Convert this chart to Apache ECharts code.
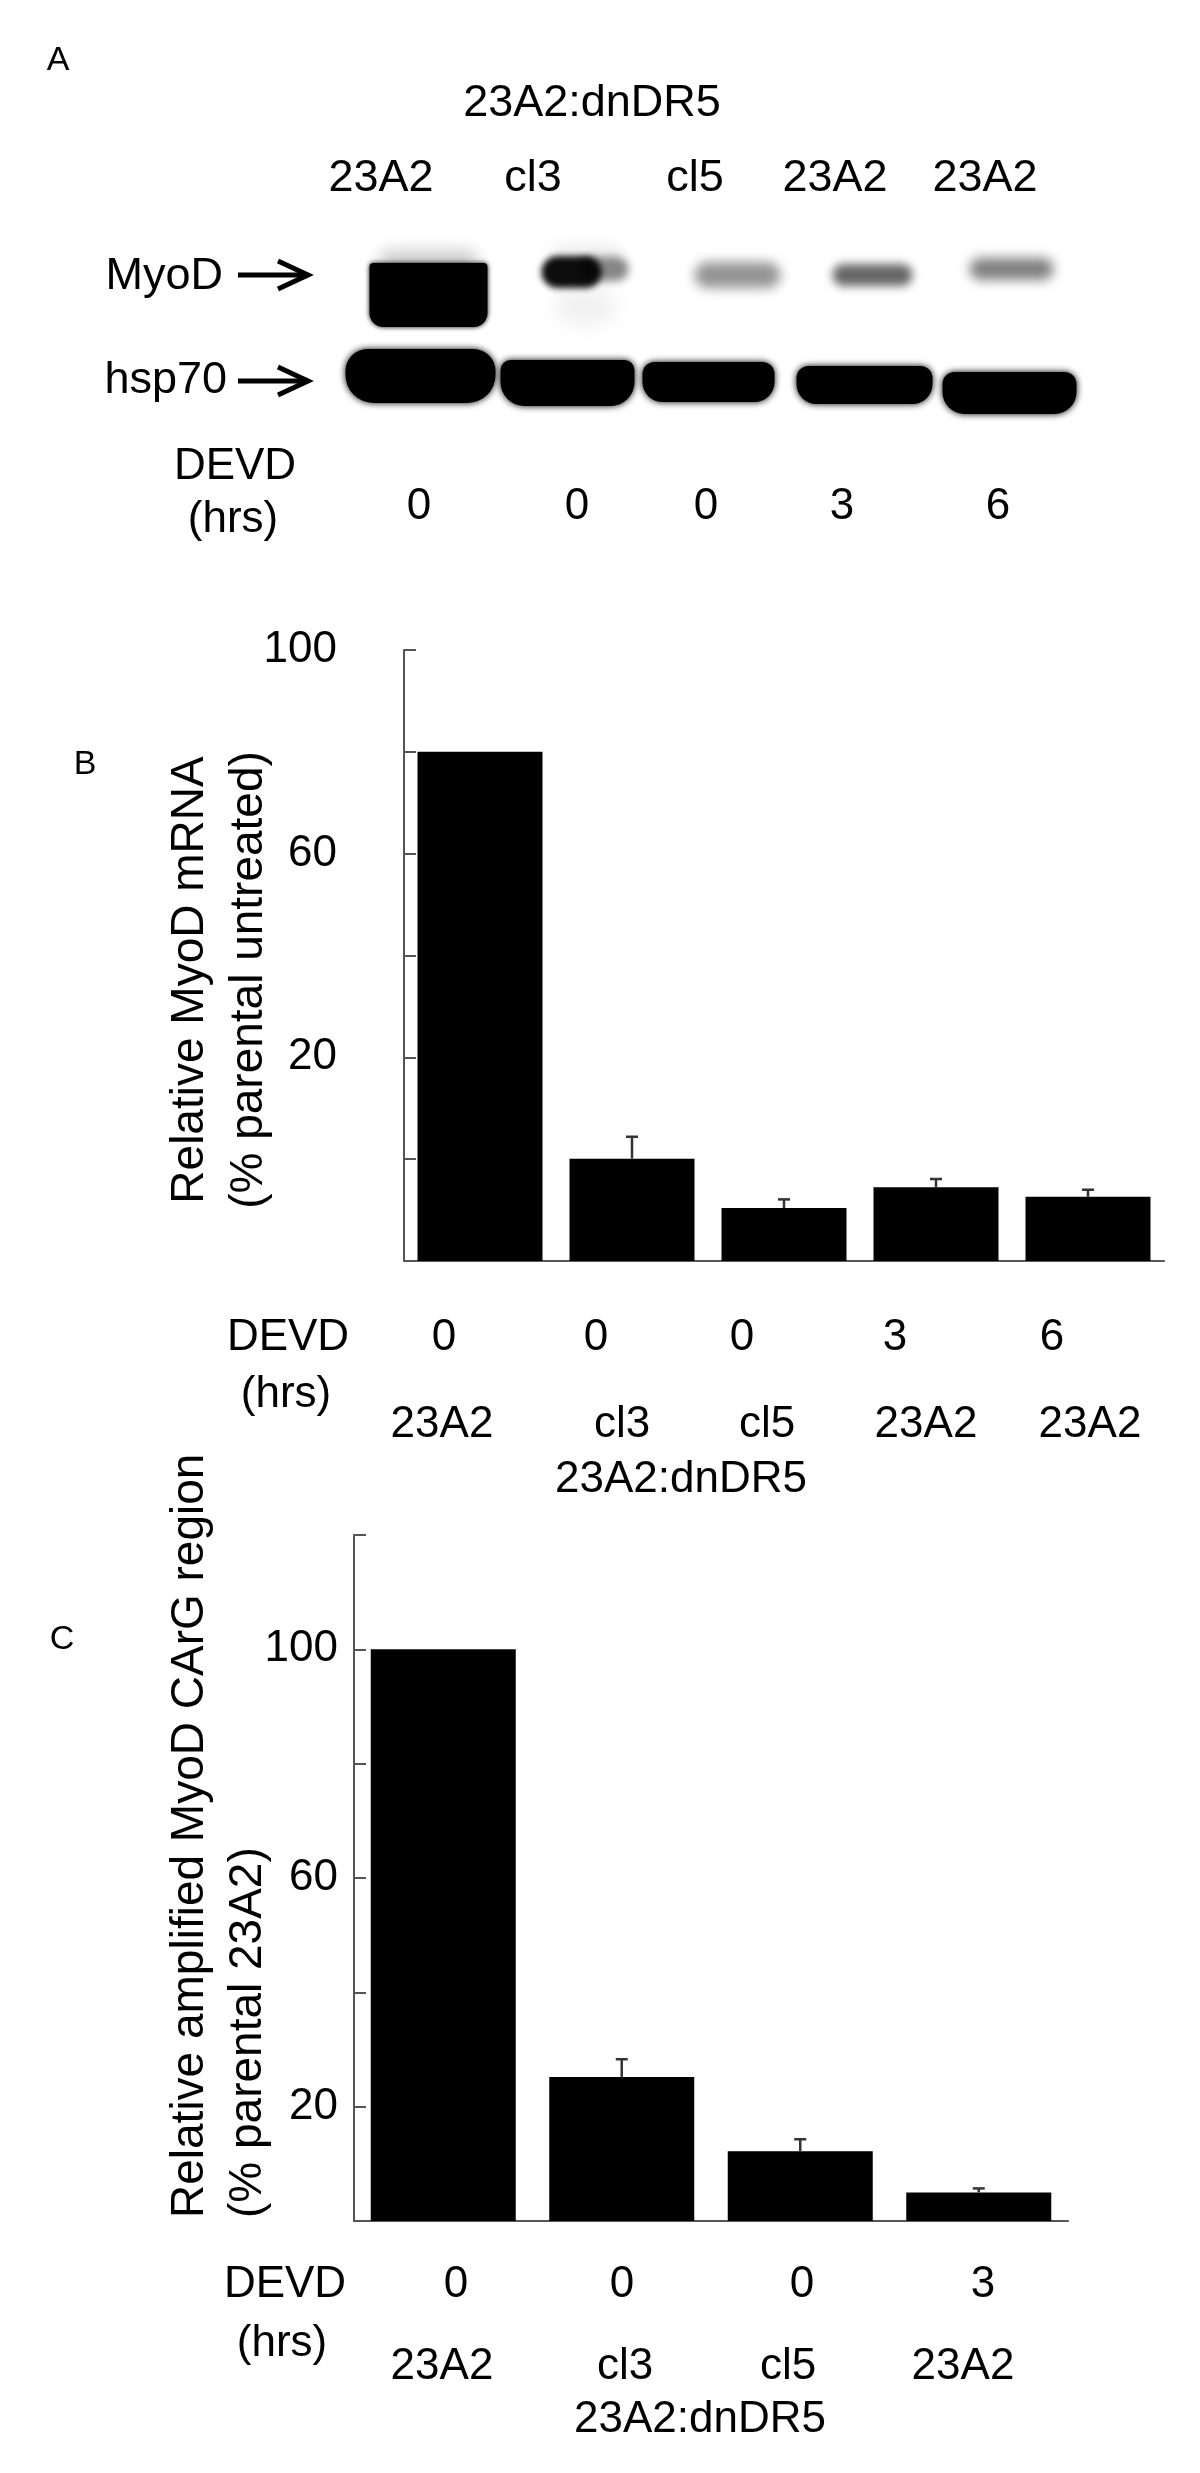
<!DOCTYPE html>
<html>
<head>
<meta charset="utf-8">
<script src="https://cdn.jsdelivr.net/npm/echarts@6/dist/echarts.min.js"></script>
<style>
  html, body { margin: 0; padding: 0; background: #fff; }
  #chart { width: 1200px; height: 2473px; }
</style>
</head>
<body>
<div id="chart"></div>
<script>
// ---------- data ----------
// panel A: western blot, relative band signal (0..1) per lane
const blotLanes = ['23A2', 'cl3', 'cl5', '23A2', '23A2'];
const blotRows = ['MyoD', 'hsp70'];
const myodSignal = [1.0, 0.95, 0.42, 0.6, 0.5];
const hsp70Signal = [1.0, 1.0, 1.0, 1.0, 1.0];
const blotHours = ['0', '0', '0', '3', '6'];

// panel B: relative MyoD mRNA
const mrnaLanes = ['23A2', 'cl3', 'cl5', '23A2', '23A2'];
const mrnaHours = ['0', '0', '0', '3', '6'];
const mrnaValues = [100, 20.1, 10.4, 14.5, 12.6];
const mrnaErrors = [0, 4.3, 1.7, 1.6, 1.4];
const mrnaTickLabels = ['', '', '20', '', '60', '', '100'];

// panel C: amplified MyoD CArG region
const chipLanes = ['23A2', 'cl3', 'cl5', '23A2'];
const chipHours = ['0', '0', '0', '3'];
const chipValues = [100, 25.2, 12.2, 5.0];
const chipErrors = [0, 3.1, 2.1, 0.7];
const chipTickLabels = ['', '20', '', '60', '', '100', ''];

// ---------- look of the blot bands (px, relative to lane centre) ----------
// solid: crisp block with a soft halo; soft: blurred blob, k scales the lane signal
const blotLook = [
  [
    [
      { soft: true, dx: 10, dy: -14, w: 100, h: 20, k: 0.22, blur: 16 },
      { dx: 10, dy: 20, w: 118, h: 64, r: [4, 4, 14, 14], k: 1, blur: 5 }
    ],
    [
      { soft: true, dx: 20, dy: 32, w: 60, h: 34, k: 0.07, blur: 22 },
      { soft: true, dx: 22, dy: -22, w: 70, h: 10, k: 0.12, blur: 16 },
      { soft: true, dx: 38, dy: -6, w: 50, h: 24, k: 0.5, blur: 8 },
      { soft: true, dx: 6, dy: -3, w: 60, h: 32, k: 1, blur: 6 }
    ],
    [
      { soft: true, dx: 25, dy: 0, w: 86, h: 26, k: 1, blur: 12 }
    ],
    [
      { soft: true, dx: 13, dy: 0, w: 80, h: 22, k: 1, blur: 10 }
    ],
    [
      { soft: true, dx: 5, dy: -6, w: 84, h: 22, k: 1, blur: 12 }
    ]
  ],
  [
    [{ dx: 2, dy: -7, w: 150, h: 54, r: [22, 22, 28, 28], k: 1, blur: 7 }],
    [{ dx: 2, dy: 0, w: 134, h: 46, r: [10, 10, 24, 24], k: 1, blur: 7 }],
    [{ dx: -4, dy: -1, w: 132, h: 40, r: [12, 12, 20, 20], k: 1, blur: 7 }],
    [{ dx: 5, dy: 2, w: 136, h: 38, r: [12, 12, 20, 20], k: 1, blur: 7 }],
    [{ dx: 3, dy: 10, w: 134, h: 42, r: [12, 12, 22, 22], k: 1, blur: 7 }]
  ]
];

const FONT = '"Liberation Sans", Arial, sans-serif';
const OFF = 3000; // soft blobs: shape drawn off to the side, only its blurred shadow lands in place

function txt(text, x, y, size, extra) {
  const o = extra || {};
  return {
    type: 'text', x: x, y: y, rotation: o.rotation || 0, silent: true,
    style: {
      text: text, fontFamily: FONT, fontSize: size, fill: '#000',
      align: o.align || 'center', verticalAlign: 'middle',
      textAlign: o.align || 'center', textVerticalAlign: 'middle'
    }
  };
}

function arrow(x1, x2, y) {
  return [
    { type: 'line', silent: true, shape: { x1: x1, y1: y, x2: x2 - 3, y2: y }, style: { stroke: '#000', lineWidth: 5 } },
    { type: 'polyline', silent: true, shape: { points: [[x2 - 30, y - 14], [x2, y], [x2 - 30, y + 14]] }, style: { stroke: '#000', lineWidth: 5, fill: null } }
  ];
}

function renderBand(params, api) {
  const lane = api.value(0);
  const row = api.value(1);
  const signal = api.value(2);
  const c = api.coord([lane, row]);
  const children = blotLook[row][lane].map(b => {
    const col = 'rgba(0,0,0,' + Math.min(1, signal * b.k) + ')';
    const x = c[0] + b.dx - b.w / 2;
    const y = c[1] + b.dy - b.h / 2;
    if (b.soft) {
      return {
        type: 'rect',
        shape: { x: x - OFF, y: y, width: b.w, height: b.h, r: b.h / 2 },
        style: { fill: '#000', shadowBlur: b.blur, shadowColor: col, shadowOffsetX: OFF }
      };
    }
    return {
      type: 'rect',
      shape: { x: x, y: y, width: b.w, height: b.h, r: b.r },
      style: { fill: col, shadowBlur: b.blur, shadowColor: col }
    };
  });
  return { type: 'group', children: children };
}

function renderError(params, api) {
  const i = api.value(0);
  const v = api.value(1);
  const e = api.value(2);
  if (!e) return null;
  const p0 = api.coord([i, v]);
  const p1 = api.coord([i, v + e]);
  const st = { stroke: '#333', lineWidth: 2.5 };
  return {
    type: 'group',
    children: [
      { type: 'line', shape: { x1: p0[0], y1: p0[1], x2: p1[0], y2: p1[1] }, style: st },
      { type: 'line', shape: { x1: p1[0] - 6, y1: p1[1], x2: p1[0] + 6, y2: p1[1] }, style: st }
    ]
  };
}

const blotData = [];
myodSignal.forEach((s, i) => blotData.push([i, 0, s]));
hsp70Signal.forEach((s, i) => blotData.push([i, 1, s]));

const axisGray = { color: '#555', width: 2 };

function valueAxis(gridIndex, labels, margin) {
  return {
    type: 'value', gridIndex: gridIndex, min: 0, max: 120, interval: 20,
    axisLine: { show: true, lineStyle: axisGray },
    axisTick: { show: true, inside: true, length: 12, lineStyle: axisGray },
    splitLine: { show: false },
    axisLabel: {
      margin: margin, fontSize: 44, fontFamily: FONT, color: '#000',
      formatter: v => labels[Math.round(v / 20)] || ''
    }
  };
}

function catAxis(gridIndex, cats) {
  return {
    type: 'category', gridIndex: gridIndex, data: cats,
    axisLine: { show: true, lineStyle: axisGray },
    axisTick: { show: false },
    axisLabel: { show: false }
  };
}

// ---------- text layout ----------
const graphics = [];
// panel A
graphics.push(txt('A', 58, 61, 34));
graphics.push(txt('23A2:dnDR5', 592, 104, 45));
[381, 533, 695, 835, 985].forEach((x, i) => graphics.push(txt(blotLanes[i], x, 179, 45)));
graphics.push(txt('MyoD', 223, 277, 45, { align: 'right' }));
graphics.push(txt('hsp70', 227, 381, 45, { align: 'right' }));
arrow(238, 308, 275).forEach(g => graphics.push(g));
arrow(238, 308, 381).forEach(g => graphics.push(g));
graphics.push(txt('DEVD', 235, 467, 44));
graphics.push(txt('(hrs)', 233, 520, 44));
[419, 577, 706, 842, 998].forEach((x, i) => graphics.push(txt(blotHours[i], x, 507, 44)));

// panel B
graphics.push(txt('B', 85, 765, 34));
graphics.push(txt('Relative MyoD mRNA', 190, 980, 46, { rotation: Math.PI / 2 }));
graphics.push(txt('(% parental untreated)', 249, 980, 46, { rotation: Math.PI / 2 }));
graphics.push(txt('DEVD', 288, 1338, 44));
graphics.push(txt('(hrs)', 286, 1395, 44));
[444, 596, 742, 895, 1052].forEach((x, i) => graphics.push(txt(mrnaHours[i], x, 1338, 44)));
[442, 622, 767, 926, 1090].forEach((x, i) => graphics.push(txt(mrnaLanes[i], x, 1425, 44)));
graphics.push(txt('23A2:dnDR5', 681, 1480, 44));

// panel C
graphics.push(txt('C', 62, 1640, 34));
graphics.push(txt('Relative amplified MyoD CArG region', 190, 2218, 46, { rotation: Math.PI / 2, align: 'left' }));
graphics.push(txt('(% parental 23A2)', 248, 2218, 46, { rotation: Math.PI / 2, align: 'left' }));
graphics.push(txt('DEVD', 285, 2285, 44));
graphics.push(txt('(hrs)', 282, 2344, 44));
[456, 622, 802, 983].forEach((x, i) => graphics.push(txt(chipHours[i], x, 2285, 44)));
[442, 625, 788, 963].forEach((x, i) => graphics.push(txt(chipLanes[i], x, 2367, 44)));
graphics.push(txt('23A2:dnDR5', 700, 2420, 44));

const chart = echarts.init(document.getElementById('chart'), null, { renderer: 'canvas' });

chart.setOption({
  backgroundColor: '#fff',
  animation: false,
  grid: [
    { left: 345, top: 221, width: 735, height: 216 },
    { left: 404, top: 650, width: 760, height: 611 },
    { left: 354, top: 1535, width: 714, height: 686 }
  ],
  xAxis: [
    { type: 'category', gridIndex: 0, data: blotLanes, show: false },
    catAxis(1, mrnaLanes),
    catAxis(2, chipLanes)
  ],
  yAxis: [
    { type: 'category', gridIndex: 0, data: blotRows, inverse: true, show: false },
    valueAxis(1, mrnaTickLabels, 67),
    valueAxis(2, chipTickLabels, 16)
  ],
  series: [
    {
      type: 'custom', xAxisIndex: 0, yAxisIndex: 0, clip: false,
      encode: { x: 0, y: 1 }, renderItem: renderBand, data: blotData, silent: true
    },
    {
      type: 'bar', xAxisIndex: 1, yAxisIndex: 1, data: mrnaValues,
      barWidth: 125, itemStyle: { color: '#000' }, silent: true
    },
    {
      type: 'custom', xAxisIndex: 1, yAxisIndex: 1, encode: { x: 0, y: 1 }, z: 3,
      renderItem: renderError, data: mrnaValues.map((v, i) => [i, v, mrnaErrors[i]]), silent: true
    },
    {
      type: 'bar', xAxisIndex: 2, yAxisIndex: 2, data: chipValues,
      barWidth: 145, itemStyle: { color: '#000' }, silent: true
    },
    {
      type: 'custom', xAxisIndex: 2, yAxisIndex: 2, encode: { x: 0, y: 1 }, z: 3,
      renderItem: renderError, data: chipValues.map((v, i) => [i, v, chipErrors[i]]), silent: true
    }
  ],
  graphic: graphics
});
</script>
</body>
</html>
